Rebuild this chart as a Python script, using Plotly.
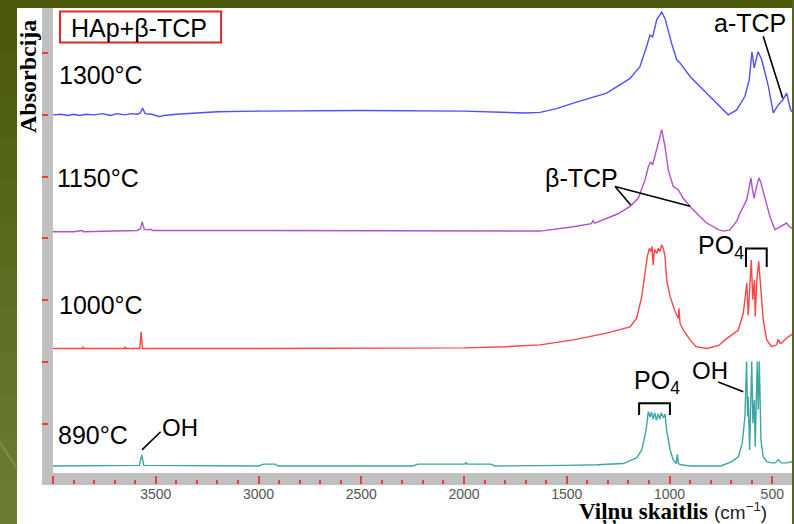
import plotly.graph_objects as go

# FTIR spectra of HAp + beta-TCP after sintering at different temperatures
# (wavenumber in cm^-1, absorbance in stacked arbitrary units)
spec_890 = [(4000, 0.32), (3700, 0.32), (3600, 0.32), (3580, 0.33), (3568, 0.50), (3558, 0.33),
            (3000, 0.32), (2975, 0.35), (2920, 0.35), (2905, 0.32), (2250, 0.32), (2225, 0.35),
            (1995, 0.35), (1990, 0.38), (1985, 0.35), (1870, 0.35), (1850, 0.32), (1630, 0.32),
            (1500, 0.33), (1350, 0.34), (1225, 0.36), (1160, 0.45), (1135, 0.58), (1114, 0.90),
            (1103, 1.20), (1095, 1.11), (1088, 1.19), (1080, 1.08), (1072, 1.18), (1064, 1.06),
            (1055, 1.16), (1047, 1.08), (1040, 1.18), (1030, 1.10), (1022, 1.16), (1014, 0.90),
            (997, 0.58), (982, 0.42), (968, 0.36), (962, 0.51), (957, 0.36), (945, 0.34),
            (900, 0.32), (750, 0.32), (697, 0.39), (665, 0.47), (646, 0.69), (633, 1.12),
            (625, 2.01), (620, 1.12), (617, 1.44), (610, 0.58), (600, 2.01), (594, 1.01),
            (587, 1.39), (583, 0.63), (573, 2.01), (568, 1.23), (563, 2.01), (555, 0.74),
            (544, 0.47), (527, 0.39), (503, 0.37), (485, 0.37), (471, 0.42), (455, 0.37),
            (430, 0.37), (404, 0.39)]

spec_1000 = [(4000, 2.22), (3856, 2.22), (3853, 2.25), (3850, 2.22), (3652, 2.22), (3649, 2.25),
             (3646, 2.22), (3578, 2.22), (3571, 2.49), (3565, 2.22), (3000, 2.22), (2500, 2.22),
             (2000, 2.23), (1800, 2.25), (1630, 2.28), (1468, 2.36), (1306, 2.47), (1192, 2.57),
             (1160, 2.71), (1135, 3.06), (1119, 3.44), (1108, 3.71), (1098, 3.84), (1092, 3.79),
             (1085, 3.87), (1080, 3.57), (1073, 3.82), (1062, 3.76), (1055, 3.84), (1046, 3.79),
             (1038, 3.90), (1030, 3.84), (1022, 3.71), (1014, 3.33), (997, 3.06), (973, 2.82),
             (957, 2.71), (954, 2.87), (949, 2.63), (933, 2.52), (900, 2.36), (871, 2.25),
             (819, 2.22), (760, 2.27), (730, 2.36), (665, 2.52), (641, 2.79), (630, 3.11),
             (624, 3.28), (617, 2.76), (608, 3.33), (602, 3.65), (595, 3.01), (587, 3.33),
             (583, 2.74), (575, 3.33), (566, 3.63), (560, 3.33), (544, 2.68), (527, 2.36),
             (503, 2.25), (479, 2.28), (471, 2.37), (463, 2.31), (455, 2.31), (430, 2.39),
             (404, 2.45)]

spec_1150 = [(4000, 4.11), (3900, 4.11), (3856, 4.13), (3852, 4.11), (3700, 4.12), (3650, 4.12),
             (3590, 4.13), (3574, 4.16), (3566, 4.27), (3556, 4.15), (3540, 4.14), (3525, 4.15),
             (3515, 4.13), (3000, 4.13), (2500, 4.13), (2000, 4.12), (1630, 4.12), (1468, 4.19),
             (1380, 4.24), (1372, 4.29), (1364, 4.25), (1250, 4.40), (1192, 4.52), (1152, 4.65),
             (1119, 4.95), (1103, 5.16), (1092, 5.24), (1082, 5.19), (1062, 5.43), (1038, 5.76),
             (1022, 5.49), (1006, 5.11), (982, 4.84), (958, 4.79), (933, 4.65), (892, 4.49),
             (851, 4.35), (819, 4.25), (760, 4.14), (738, 4.12), (706, 4.14), (673, 4.28),
             (657, 4.41), (640, 4.52), (625, 4.62), (614, 4.80), (604, 4.98), (596, 4.78),
             (588, 4.65), (578, 4.82), (565, 4.98), (557, 4.92), (547, 4.79), (530, 4.55),
             (511, 4.35), (487, 4.14), (472, 4.17), (462, 4.19), (445, 4.22), (430, 4.25),
             (420, 4.20), (404, 4.16)]

spec_1300 = [(4000, 6.00), (3960, 6.01), (3930, 5.99), (3900, 6.01), (3870, 5.99), (3840, 6.01),
             (3800, 6.00), (3760, 6.02), (3720, 5.99), (3690, 6.02), (3650, 6.00), (3620, 6.02),
             (3590, 6.01), (3575, 6.03), (3564, 6.11), (3552, 6.02), (3520, 6.01), (3480, 5.97),
             (3460, 5.99), (3400, 6.01), (3300, 6.03), (3200, 6.05), (3000, 6.06), (2500, 6.07),
             (2000, 6.06), (1800, 6.04), (1700, 6.03), (1630, 6.04), (1550, 6.10), (1468, 6.19),
             (1306, 6.35), (1192, 6.59),
             (1144, 6.78), (1111, 7.11), (1095, 7.29), (1082, 7.26), (1062, 7.54), (1038, 7.66),
             (1022, 7.56), (990, 7.16), (965, 6.89), (949, 6.84), (900, 6.62), (819, 6.35),
             (754, 6.13), (714, 6.00), (673, 6.08), (633, 6.30), (612, 6.57), (599, 7.02),
             (588, 6.76), (569, 7.02), (551, 6.89), (519, 6.46), (495, 6.03), (471, 6.16),
             (449, 6.24), (430, 6.35), (411, 6.08), (404, 6.05)]

series = [
    ("890°C", spec_890, "#3ca6a2"),
    ("1000°C", spec_1000, "#ff4444"),
    ("1150°C", spec_1150, "#b252c8"),
    ("1300°C", spec_1300, "#4f4fff"),
]

x_tick_vals = [4000, 3500, 3000, 2500, 2000, 1500, 1000, 500]
x_tick_text = ["", "3500", "3000", "2500", "2000", "1500", "1000", "500"]
y_tick_vals = [1, 2, 3, 4, 5, 6, 7]

W, H = 794, 524
ML, MR, MT, MB = 42, 2, 8, 40
PW, PH = W - ML - MR, H - MT - MB


def px(xp):
    return (xp - ML) / PW


def py(yp):
    return (H - MB - yp) / PH


SANS = "Liberation Sans, Arial, sans-serif"
SERIF = "Liberation Serif, Times New Roman, serif"
TICK_RED = "#e8403c"

fig = go.Figure()
for name, spec, color in series:
    fig.add_trace(go.Scatter(
        x=[p[0] for p in spec], y=[p[1] for p in spec], mode="lines", name=name,
        line=dict(color=color, width=1.4), showlegend=False, hoverinfo="skip"))

shapes = []
# slide background around the chart panel
shapes.append(dict(type="rect", xref="paper", yref="paper", x0=px(0), x1=px(W), y0=py(8), y1=py(0),
                   fillcolor="#4a590b", line=dict(width=0), layer="above"))
shapes.append(dict(type="rect", xref="paper", yref="paper", x0=px(792), x1=px(W), y0=py(H), y1=py(0),
                   fillcolor="#55661a", line=dict(width=0), layer="above"))
band_cols = ["#4b5a0c", "#4e5d10", "#516113", "#546416", "#57671a", "#5a6a1d",
             "#5d6d21", "#607125", "#637428", "#66772c", "#697a30", "#6b7c33"]
nb = len(band_cols)
for i, c in enumerate(band_cols):
    shapes.append(dict(type="rect", xref="paper", yref="paper", x0=px(0), x1=px(17),
                       y0=py(8 + (i + 1) * (H - 8) / nb), y1=py(8 + i * (H - 8) / nb),
                       fillcolor=c, line=dict(width=0), layer="above"))
shapes.append(dict(type="line", xref="paper", yref="paper", x0=px(0), y0=py(443), x1=px(17), y1=py(468),
                   line=dict(color="#7f8f45", width=2), layer="above"))

# grey axis bars (drawn under the transparent plot area, ticks sit on top)
shapes.append(dict(type="rect", xref="paper", yref="paper", x0=px(42), x1=px(53), y0=py(485), y1=py(8),
                   fillcolor="#c0c0c0", line=dict(width=0), layer="below"))
shapes.append(dict(type="rect", xref="paper", yref="paper", x0=px(42), x1=px(792), y0=py(485), y1=py(473),
                   fillcolor="#c0c0c0", line=dict(width=0), layer="below"))

# title box
shapes.append(dict(type="rect", xref="x", yref="y", x0=3966, x1=3182, y0=7.17, y1=7.67,
                   fillcolor="white", line=dict(color="#e02525", width=2), layer="below"))

# annotation leader lines and brackets
black = dict(color="black", width=1.6)
for x0, y0, x1, y1 in [(544, 7.27, 449, 6.27),         # a-TCP
                       (1265, 4.84, 1189, 4.54),       # beta-TCP
                       (1265, 4.84, 900, 4.52),
                       (763, 1.68, 641, 1.52),         # OH (libration)
                       (3567, 0.58, 3476, 0.875)]:     # OH (stretch)
    shapes.append(dict(type="line", xref="x", yref="y", x0=x0, y0=y0, x1=x1, y1=y1, line=black))
for xa, xb, ytop, ybot in [(628, 527, 3.84, 3.54), (1148, 998, 1.335, 1.146)]:
    shapes.append(dict(type="path", xref="x", yref="y",
                       path=f"M {xa},{ybot} L {xa},{ytop} L {xb},{ytop} L {xb},{ybot}",
                       line=dict(color="black", width=2)))

annotations = []


def label(x, y, text, size=24, anchor="center"):
    annotations.append(dict(x=x, y=y, xref="x", yref="y", text=text, showarrow=False,
                            xanchor=anchor, yanchor="middle",
                            font=dict(family=SANS, size=size, color="black")))


label(3581, 7.41, "HAp+β-TCP", size=25)
label(3980, 6.65, "1300°C", size=25, anchor="left")
label(3990, 4.98, "1150°C", size=25, anchor="left")
label(3980, 2.93, "1000°C", size=25, anchor="left")
label(3985, 0.82, "890°C", size=25, anchor="left")
label(607, 7.49, "a-TCP", size=25)
label(1428, 4.98, "β-TCP", size=25)
label(750, 3.87, "PO<sub>4</sub>", size=25)
label(1063, 1.68, "PO<sub>4</sub>", size=25)
label(803, 1.87, "OH", size=24)
label(3382, 0.94, "OH", size=24)

annotations.append(dict(x=px(577), y=py(512), xref="paper", yref="paper", text="<b>Viļņu skaitlis</b>",
                        showarrow=False, xanchor="left", yanchor="middle",
                        font=dict(family=SERIF, size=23, color="black")))
annotations.append(dict(x=px(712), y=py(511), xref="paper", yref="paper", text="(cm<sup>−1</sup>)",
                        showarrow=False, xanchor="left", yanchor="middle",
                        font=dict(family=SANS, size=19, color="#222")))
annotations.append(dict(x=px(28), y=py(77), xref="paper", yref="paper", text="<b>Absorbcija</b>",
                        showarrow=False, xanchor="center", yanchor="middle", textangle=-90,
                        font=dict(family=SERIF, size=24, color="black")))

# the data area spans the full paper box so axis ticks start at the outer edges of the bars
fig.update_layout(
    width=W, height=H,
    margin=dict(l=ML, r=MR, t=MT, b=MB, pad=0),
    paper_bgcolor="white", plot_bgcolor="rgba(0,0,0,0)",
    shapes=shapes, annotations=annotations,
    xaxis=dict(range=[4053.5, 404], showgrid=False, zeroline=False, showline=False,
               tickmode="array", tickvals=x_tick_vals, ticktext=x_tick_text,
               ticks="inside", ticklen=8, tickwidth=1.5, tickcolor=TICK_RED,
               tickfont=dict(family=SANS, size=14, color="#555555"),
               minor=dict(tickmode="linear", tick0=0, dtick=100, ticks="inside", ticklen=4,
                          tickwidth=1.5, tickcolor=TICK_RED, showgrid=False)),
    yaxis=dict(range=[0.029, 7.728], showgrid=False, zeroline=False, showline=False,
               tickmode="array", tickvals=y_tick_vals, showticklabels=False,
               ticks="inside", ticklen=6, tickwidth=1.5, tickcolor=TICK_RED),
)

fig.write_html("out.html")
